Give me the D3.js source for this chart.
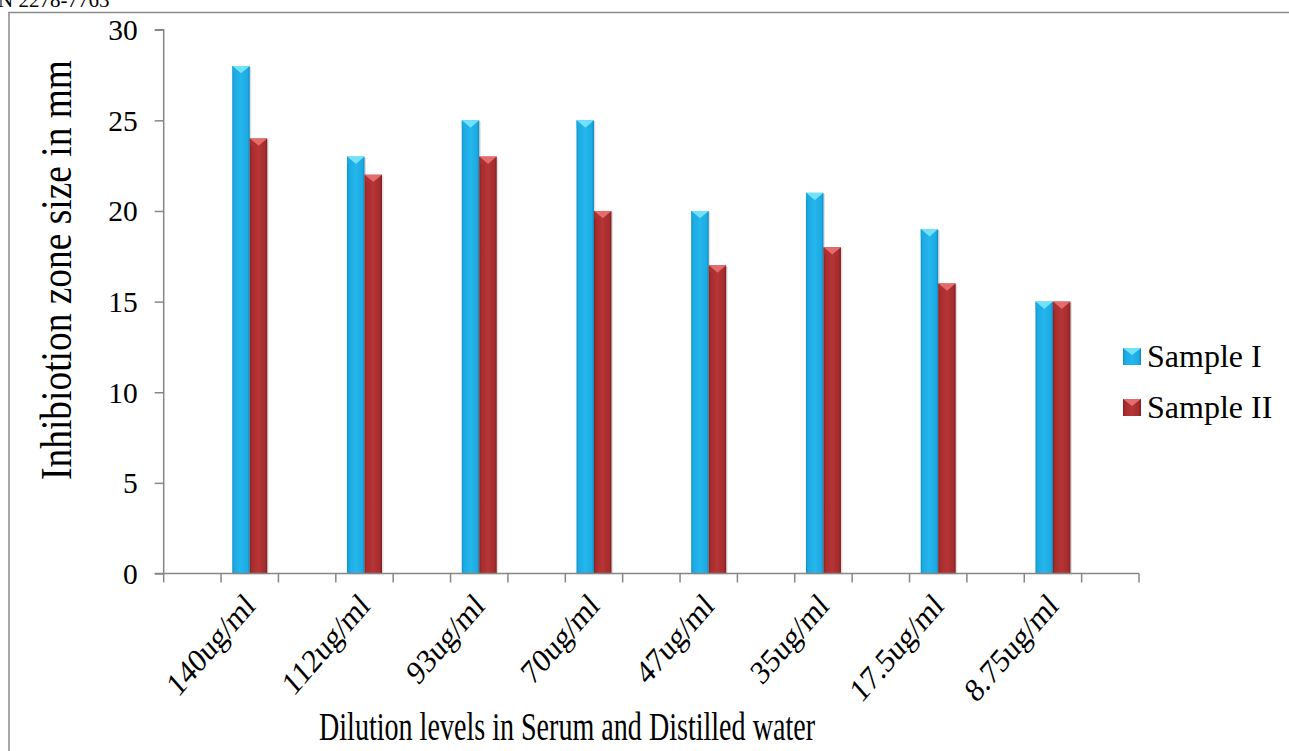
<!DOCTYPE html>
<html>
<head>
<meta charset="utf-8">
<script src="https://cdn.jsdelivr.net/npm/d3@7"></script>
<style>
  html, body { margin: 0; padding: 0; background: #fff; }
  svg { display: block; }
  text { font-family: "Liberation Serif", "Times New Roman", serif; fill: #000; }
</style>
</head>
<body>
<svg id="chart" width="1289" height="751"></svg>
<script>
const categories = ["140ug/ml", "112ug/ml", "93ug/ml", "70ug/ml", "47ug/ml", "35ug/ml", "17.5ug/ml", "8.75ug/ml"];
const seriesNames = ["Sample I", "Sample II"];
const sampleI = [28, 23, 25, 25, 20, 21, 19, 15];
const sampleII = [24, 22, 23, 20, 17, 18, 16, 15];
const yTicks = [0, 5, 10, 15, 20, 25, 30];
const yTitle = "Inhibiotion zone size in mm";
const xTitle = "Dilution levels in Serum and Distilled water";
const headerText = "N 2278-7763";

const svg = d3.select("#chart");
const W = 1289, H = 751;
const plot = { left: 163.7, right: 1139, top: 29.7, bottom: 573.5 };

// slot domain: blank slots interleaved with categories (as in the original sheet)
const slots = [];
slots.push("_b0");
categories.forEach((c, i) => { slots.push(c); slots.push("_b" + (i + 1)); });

const x = d3.scaleBand().domain(slots).range([plot.left, plot.right]).padding(0);
const y = d3.scaleLinear().domain([0, 30]).range([plot.bottom, plot.top]);
const inner = d3.scaleBand().domain(seriesNames).range([0, x.bandwidth() * 0.61]).padding(0);
const groupOffset = (x.bandwidth() - x.bandwidth() * 0.61) / 2;

// gradients
const defs = svg.append("defs");
function hGrad(id, stops) {
  const g = defs.append("linearGradient").attr("id", id).attr("x1", "0").attr("x2", "1").attr("y1", "0").attr("y2", "0");
  stops.forEach(s => g.append("stop").attr("offset", s[0]).attr("stop-color", s[1]));
}
hGrad("gBlue", [[0, "#1090c6"], [0.12, "#1caae2"], [0.5, "#24b6ec"], [0.88, "#1caae2"], [1, "#0f88bd"]]);
hGrad("gRed", [[0, "#85201f"], [0.12, "#a82c2d"], [0.5, "#b63536"], [0.88, "#a42b2c"], [1, "#7e1f20"]]);
const fillFor = { "Sample I": "url(#gBlue)", "Sample II": "url(#gRed)" };
const capFor = { "Sample I": "#72e2fb", "Sample II": "#e46c6c" };
const solidFor = { "Sample I": "#1eaee5", "Sample II": "#b23233" };

// frame
svg.append("line").attr("x1", 8.5).attr("x2", W).attr("y1", 12.5).attr("y2", 12.5).attr("stroke", "#8a8a8a").attr("stroke-width", 1.5);
svg.append("line").attr("x1", 9).attr("x2", 9).attr("y1", 12).attr("y2", H).attr("stroke", "#8a8a8a").attr("stroke-width", 1.5);
svg.append("text").attr("x", -2).attr("y", 7).attr("font-size", 21).text(headerText);

// bars
const data = categories.map((c, i) => ({ cat: c, vals: [{ s: "Sample I", v: sampleI[i] }, { s: "Sample II", v: sampleII[i] }] }));
const groups = svg.append("g").selectAll("g").data(data).join("g")
  .attr("transform", d => `translate(${x(d.cat) + groupOffset},0)`);
groups.selectAll("g.bar").data(d => d.vals).join("g").attr("class", "bar").each(function(d) {
  const g = d3.select(this);
  const bx = inner(d.s), bw = inner.bandwidth(), top = y(d.v), bot = y(0);
  g.append("rect").attr("x", bx + 1.5).attr("y", top + 1).attr("width", bw).attr("height", bot - top)
    .attr("fill", "#000").attr("opacity", 0.12);
  g.append("rect").attr("x", bx).attr("y", top).attr("width", bw).attr("height", bot - top)
    .attr("fill", fillFor[d.s]);
  g.append("path").attr("d", `M${bx},${top}L${bx + bw},${top}L${bx + bw / 2},${top + bw * 0.42}Z`)
    .attr("fill", capFor[d.s]);
  g.append("path").attr("d", `M${bx},${top}L${bx + bw / 2},${top + bw * 0.42}L${bx},${top + bw * 0.42}Z`)
    .attr("fill", solidFor[d.s]).attr("opacity", 0.6);
});

// y axis
const yAxis = svg.append("g").attr("transform", `translate(${plot.left},0)`)
  .call(d3.axisLeft(y).tickValues(yTicks).tickSize(9).tickPadding(17).tickFormat(d3.format("d")));
yAxis.select(".domain").attr("stroke", "#868686").attr("stroke-width", 1.5).attr("d", `M-9,${plot.top}H0V${plot.bottom}`);
yAxis.selectAll(".tick line").attr("stroke", "#868686").attr("stroke-width", 1.5);
yAxis.selectAll(".tick text").attr("font-size", 29.5).attr("fill", "#000").attr("dy", "0.34em");

// x axis
const xBoundaries = slots.map(s => x(s)).concat([plot.right]);
const xAxisG = svg.append("g");
xAxisG.append("line").attr("x1", plot.left - 9).attr("x2", plot.right).attr("y1", plot.bottom).attr("y2", plot.bottom)
  .attr("stroke", "#868686").attr("stroke-width", 1.5);
xAxisG.selectAll("line.tk").data(xBoundaries).join("line").attr("class", "tk")
  .attr("x1", d => d).attr("x2", d => d).attr("y1", plot.bottom).attr("y2", plot.bottom + 9)
  .attr("stroke", "#868686").attr("stroke-width", 1.5);
xAxisG.selectAll("text.lbl").data(categories).join("text").attr("class", "lbl")
  .attr("text-anchor", "end").attr("font-size", 29)
  .attr("transform", d => `translate(${x(d) + x.bandwidth() / 2 + 7},${plot.bottom + 34}) scale(1,1.15) rotate(-45)`)
  .text(d => d);

// axis titles
svg.append("text").attr("text-anchor", "middle").attr("font-size", 44)
  .attr("textLength", 420).attr("lengthAdjust", "spacingAndGlyphs")
  .attr("transform", `translate(71,270) rotate(-90)`).text(yTitle);
svg.append("text").attr("text-anchor", "middle").attr("font-size", 39)
  .attr("textLength", 496).attr("lengthAdjust", "spacingAndGlyphs")
  .attr("x", 567).attr("y", 740).text(xTitle);

// legend
const legend = svg.append("g").attr("transform", "translate(1123,348)");
seriesNames.forEach((s, i) => {
  const g = legend.append("g").attr("transform", `translate(0,${i * 51})`);
  g.append("rect").attr("width", 18).attr("height", 17).attr("fill", fillFor[s]);
  g.append("path").attr("d", "M0,0L18,0L9,7Z").attr("fill", capFor[s]);
  g.append("text").attr("x", 24).attr("y", 19).attr("font-size", 32).text(s);
});
</script>
</body>
</html>
